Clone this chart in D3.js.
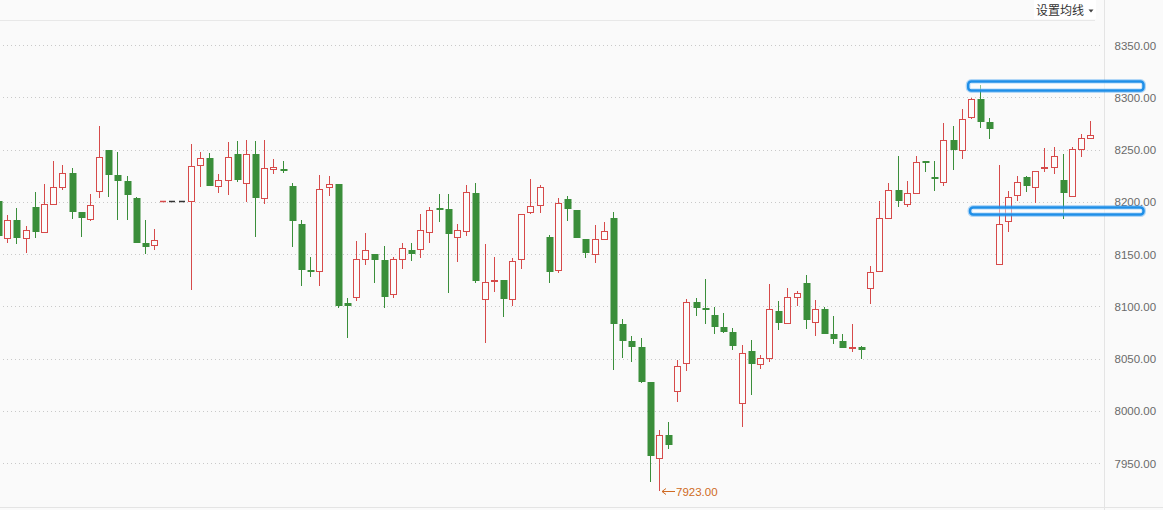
<!DOCTYPE html>
<html><head><meta charset="utf-8">
<script src="https://cdn.jsdelivr.net/npm/d3@7"></script>
<style>
html,body{margin:0;padding:0;background:#fafafa;}
svg{display:block;}
</style></head><body>
<svg id="chart" width="1163" height="510"></svg>
<script>
// ---- data ----
const opens = [8201,8165.6,8182.5,8165.0,8195.0,8170.8,8197.6,8213.8,8227.5,8190.2,
8183.8,8210.0,8249.5,8225.6,8219.9,8203.6,8160.5,8158.9,8200.7,8200.7,
8200.7,8200.7,8234.9,8241.9,8214.8,8220.5,8245.4,8217.7,8245.4,8203.3,
8231.6,8231.6,8215.1,8178.7,8134.7,8134.0,8213.8,8217.0,8102.8,8108.6,
8144.9,8150.0,8144.3,8111.4,8144.9,8153.5,8154.5,8170.8,8193.7,8193.0,
8166.0,8172.3,8208.4,8106.7,8124.5,8125.1,8106.7,8144.9,8190.5,8196.6,
8166.0,8134.4,8202.3,8191.8,8164.1,8149.7,8164.1,8184.5,8082.7,8066.8,
8061.0,8027.5,7954.5,7976.5,8019.2,8045.4,8103.8,8098.6,8091.6,8080.2,
8075.4,8007.1,8057.2,8044.5,8050.2,8095.5,8083.7,8108.6,8122.0,8084.6,
8097.4,8073.2,8066.5,8059.8,8061.0,8117.2,8134.0,8184.2,8211.2,8197.6,
8208.1,8239.0,8223.7,8218.6,8258.8,8249.2,8280.8,8298.0,8276.0,8140.1,
8181.6,8206.5,8223.4,8213.8,8232.6,8233.0,8220.5,8205.5,8250.2,8260.7];
const highs = [8205,8187.3,8193.7,8176.8,8209.3,8217.0,8239.0,8235.2,8232.0,8190.5,
8207.4,8272.5,8250.0,8247.6,8224.6,8204.3,8182.5,8173.9,8200.7,8200.7,
8200.7,8255.3,8247.3,8246.7,8226.3,8256.9,8258.1,8259.1,8258.1,8259.1,
8240.9,8239.0,8217.7,8182.2,8147.1,8225.6,8224.6,8217.0,8107.6,8162.4,
8170.1,8150.0,8157.7,8146.8,8160.5,8160.2,8188.3,8195.0,8207.4,8207.4,
8178.7,8216.0,8217.9,8159.6,8146.8,8125.1,8145.9,8188.3,8221.8,8216.0,
8167.9,8203.3,8205.5,8191.8,8164.1,8177.8,8180.6,8190.2,8087.8,8071.5,
8069.6,8027.5,7981.6,7989.0,8048.3,8106.9,8107.9,8126.1,8099.3,8093.5,
8079.2,8062.9,8067.4,8053.4,8121.3,8105.0,8117.2,8114.6,8129.9,8106.0,
8099.6,8090.7,8073.5,8083.0,8062.0,8138.5,8200.7,8217.7,8243.8,8219.9,
8243.8,8239.0,8239.0,8275.1,8272.5,8288.5,8299.0,8311.7,8279.9,8235.2,
8210.3,8224.6,8224.6,8229.7,8251.2,8252.4,8245.7,8252.7,8264.5,8277.3];
const lows = [8163,8160.8,8159.6,8151.3,8165.6,8170.5,8197.0,8211.2,8183.5,8166.6,
8181.9,8203.9,8204.8,8182.5,8182.5,8160.8,8150.0,8154.1,8200.7,8200.7,
8200.7,8115.6,8214.4,8215.4,8208.7,8206.8,8218.6,8200.0,8166.6,8197.6,
8226.3,8227.8,8157.0,8119.7,8128.0,8119.7,8205.8,8098.0,8069.3,8105.3,
8139.8,8122.5,8098.6,8108.2,8135.4,8143.6,8146.5,8160.8,8180.9,8112.4,
8142.6,8167.5,8122.5,8064.6,8113.9,8090.0,8100.2,8135.9,8188.0,8189.5,
8122.0,8132.1,8181.9,8165.6,8146.5,8141.7,8164.1,8039.3,8050.8,8047.0,
8026.3,7932.1,7923.0,7963.1,8008.1,8038.3,8091.0,8083.0,8073.5,8074.7,
8058.4,7984.7,8015.4,8039.7,8047.0,8077.3,8083.7,8100.5,8078.5,8071.8,
8073.7,8063.9,8059.8,8055.9,8049.8,8102.2,8134.0,8184.2,8195.3,8195.3,
8208.1,8228.8,8210.6,8215.4,8230.7,8241.2,8278.9,8270.9,8259.8,8140.1,
8171.4,8201.0,8209.0,8199.1,8228.8,8226.8,8183.2,8205.5,8243.1,8259.8];
const closes = [8167.2,8182.5,8165.6,8173.0,8171.4,8197.6,8213.8,8227.2,8190.5,8184.7,
8196.6,8242.5,8225.9,8220.1,8206.8,8160.8,8157.0,8163.1,8200.7,8200.7,
8200.7,8234.2,8241.6,8215.4,8220.5,8242.5,8220.5,8245.4,8203.3,8232.0,
8233.3,8230.1,8181.9,8135.0,8133.1,8212.2,8216.7,8100.5,8100.5,8144.9,
8153.5,8144.6,8109.1,8144.9,8155.5,8150.3,8172.7,8191.8,8193.0,8169.4,
8172.7,8209.0,8124.5,8122.9,8125.1,8107.2,8143.3,8188.3,8195.7,8214.1,
8133.1,8198.8,8192.8,8165.6,8150.7,8164.1,8171.7,8083.3,8067.0,8061.3,
8027.8,7957.0,7976.5,7967.5,8042.5,8103.8,8098.6,8096.1,8080.4,8075.7,
8062.3,8055.0,8045.0,8050.2,8097.4,8084.3,8108.6,8112.4,8087.1,8097.1,
8073.7,8068.7,8060.3,8061.0,8057.9,8132.5,8184.2,8211.2,8201.0,8208.1,
8237.8,8237.4,8222.7,8258.8,8249.8,8278.9,8298.0,8276.6,8269.3,8178.4,
8204.8,8219.2,8215.4,8229.7,8233.6,8243.8,8208.1,8250.2,8260.7,8263.6];
const yTicks = [7950, 8000, 8050, 8100, 8150, 8200, 8250, 8300, 8350];
const headerLabel = "设置均线";
// highlight boxes: start (candle index, fractional), value range
const boxStarts = [105.7, 105.9];
const boxTops = [8315.0, 8194.5];
const boxBottoms = [8306.5, 8187.8];

// ---- layout ----
const W = 1163, H = 510;
const plotRight = 1104.5;
const svg = d3.select("#chart");
svg.append("rect").attr("width", W).attr("height", H).attr("fill", "#fafafa");

const n = opens.length;
const x = d3.scaleBand().domain(d3.range(n)).range([-6.49, -6.49 + 9.178 * n]).padding(0);
const xc = i => x(i) + x.bandwidth() / 2;
const xFrac = d3.scaleLinear().domain([0, n - 1]).range([xc(0), xc(n - 1)]);
const y = d3.scaleLinear().domain([7950, 8350]).range([463, 45]);

// frame lines
svg.append("line").attr("x1", 0).attr("x2", 1095).attr("y1", 20.5).attr("y2", 20.5)
  .attr("stroke", "#e8e8e8");
svg.append("line").attr("x1", plotRight).attr("x2", plotRight).attr("y1", 0).attr("y2", H)
  .attr("stroke", "#e4e4e4");
svg.append("line").attr("x1", 0).attr("x2", W).attr("y1", 507.5).attr("y2", 507.5)
  .attr("stroke", "#e4e4e4");

// grid
svg.append("g").selectAll("line").data(yTicks).join("line")
  .attr("x1", 3).attr("x2", 1100)
  .attr("y1", d => Math.round(y(d)) + 0.5).attr("y2", d => Math.round(y(d)) + 0.5)
  .attr("stroke", "#c9c9c9").attr("stroke-dasharray", "1,3");

// axis
const axis = d3.axisRight(y).tickValues(yTicks).tickFormat(d3.format(".2f"))
  .tickSize(0).tickPadding(10);
const ag = svg.append("g").attr("transform", `translate(${plotRight},0)`).call(axis);
ag.select(".domain").remove();
ag.selectAll("text").attr("fill", "#6a6a6a")
  .style("font-family", "'Liberation Sans', Arial, sans-serif").style("font-size", "11.5px")
  .attr("dy", "0.35em");

// candles
svg.append("clipPath").attr("id", "clip").append("rect")
  .attr("x", 0).attr("y", 21).attr("width", plotRight).attr("height", 486);
const cg = svg.append("g").attr("clip-path", "url(#clip)");
const RED = "#d64a4a", GREEN = "#3a8e3a", FLAT = "#333";
const idx = d3.range(n);
idx.forEach(i => {
  const o = opens[i], c = closes[i], h = highs[i], l = lows[i];
  const rc = Math.round(xc(i));
  let color;
  if (c > o) color = RED;
  else if (c < o) color = GREEN;
  else color = (i > 0 && c > closes[i - 1]) ? RED : (i > 0 && c < closes[i - 1]) ? GREEN : FLAT;
  const yTop = Math.round(y(Math.max(o, c)));
  const yBot = Math.round(y(Math.min(o, c)));
  const yH = Math.round(y(h)), yL = Math.round(y(l));
  if (h === l && o === c) {
    cg.append("line").attr("x1", rc - 3).attr("x2", rc + 3)
      .attr("y1", yTop + 0.5).attr("y2", yTop + 0.5).attr("stroke", color).attr("stroke-width", 1.3);
    return;
  }
  if (color === RED) {
    if (yH < yTop) cg.append("line").attr("x1", rc + 0.5).attr("x2", rc + 0.5)
      .attr("y1", yH).attr("y2", yTop).attr("stroke", color);
    if (yL > yBot) cg.append("line").attr("x1", rc + 0.5).attr("x2", rc + 0.5)
      .attr("y1", yBot).attr("y2", yL).attr("stroke", color);
    cg.append("rect").attr("x", rc - 2.5).attr("y", yTop + 0.5)
      .attr("width", 6).attr("height", Math.max(yBot - yTop, 1))
      .attr("fill", "#fcfcfc").attr("stroke", color).attr("stroke-width", 1);
  } else {
    cg.append("line").attr("x1", rc + 0.5).attr("x2", rc + 0.5)
      .attr("y1", yH).attr("y2", yL).attr("stroke", color);
    cg.append("rect").attr("x", rc - 2.5).attr("y", yTop)
      .attr("width", 7).attr("height", Math.max(yBot - yTop, 2))
      .attr("fill", color);
  }
});

// min label
const minI = d3.minIndex(lows);
const mx = Math.round(xc(minI)) + 2, my = Math.round(y(lows[minI])) + 0.5;
const LBL = "#cf6a23";
svg.append("path").attr("d", `M${mx + 14},${my}H${mx + 1}M${mx + 5},${my - 3}L${mx + 1},${my}L${mx + 5},${my + 3}`)
  .attr("stroke", LBL).attr("fill", "none").attr("stroke-width", 1);
svg.append("text").attr("x", mx + 15).attr("y", my).attr("dy", "0.35em")
  .attr("fill", LBL).style("font-family", "'Liberation Sans', Arial, sans-serif")
  .style("font-size", "11.5px").text(d3.format(".2f")(lows[minI]));

// highlight boxes
boxStarts.forEach((s, k) => {
  const x0 = xFrac(s), x1 = W - 19.5;
  const y0 = y(boxTops[k]), y1 = y(boxBottoms[k]);
  svg.append("rect").attr("x", x0).attr("y", y0).attr("width", x1 - x0).attr("height", y1 - y0)
    .attr("rx", 3).attr("fill", "none").attr("stroke", "rgba(40,150,240,0.35)").attr("stroke-width", 5);
  svg.append("rect").attr("x", x0).attr("y", y0).attr("width", x1 - x0).attr("height", y1 - y0)
    .attr("rx", 3).attr("fill", "rgba(255,255,255,0.45)").attr("stroke", "#1f8fe8").attr("stroke-width", 2.5);
});

// header
svg.append("rect").attr("x", 1034).attr("y", 0).attr("width", 62).attr("height", 19).attr("fill", "#fff");
svg.append("text").attr("x", 1036).attr("y", 15).attr("fill", "#333")
  .style("font-family", "'Noto Sans CJK SC', sans-serif").style("font-size", "12px").text(headerLabel);
svg.append("path").attr("d", "M1088.5,9.5L1093.5,9.5L1091,12.5Z").attr("fill", "#444");
</script>
</body></html>
